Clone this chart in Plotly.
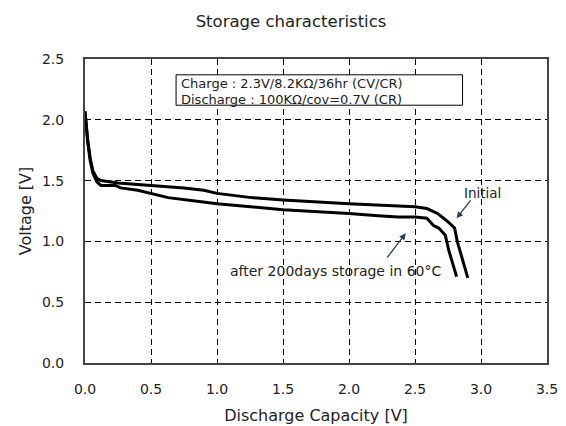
import plotly.graph_objects as go

# discharge curves
initial_x = [0, 0.01, 0.02, 0.04, 0.06, 0.09, 0.12, 0.25, 0.5, 0.75, 0.90, 1.0,
             1.26, 1.5, 2.0, 2.37, 2.5, 2.59, 2.67, 2.74, 2.80, 2.82, 2.86, 2.90]
initial_y = [2.07, 1.92, 1.84, 1.68, 1.58, 1.52, 1.50, 1.48, 1.46, 1.44, 1.42, 1.395,
             1.36, 1.34, 1.31, 1.29, 1.285, 1.27, 1.23, 1.17, 1.11, 1.00, 0.85, 0.70]

stored_x = [0, 0.01, 0.02, 0.04, 0.06, 0.09, 0.12, 0.23, 0.27, 0.40, 0.51, 0.63,
            0.85, 1.0, 1.5, 2.0, 2.22, 2.37, 2.5, 2.59, 2.64, 2.68, 2.73, 2.755, 2.815]
stored_y = [2.07, 1.90, 1.82, 1.66, 1.56, 1.49, 1.46, 1.46, 1.44, 1.42, 1.39, 1.36,
            1.33, 1.31, 1.26, 1.23, 1.21, 1.20, 1.20, 1.19, 1.13, 1.11, 1.05, 0.93, 0.71]

x_ticks = [0.0, 0.5, 1.0, 1.5, 2.0, 2.5, 3.0, 3.5]
y_ticks = [0.0, 0.5, 1.0, 1.5, 2.0, 2.5]

font = "DejaVu Sans, sans-serif"

fig = go.Figure()
fig.add_trace(go.Scatter(x=initial_x, y=initial_y, mode="lines",
                         line=dict(color="black", width=3), name="Initial"))
fig.add_trace(go.Scatter(x=stored_x, y=stored_y, mode="lines",
                         line=dict(color="black", width=3), name="after 200days"))

# condition box
fig.add_shape(type="rect", x0=0.69, x1=2.86, y0=2.12, y1=2.37,
              line=dict(color="black", width=1), fillcolor="white", layer="above")
fig.add_annotation(x=0.715, y=2.30, text="Charge : 2.3V/8.2KΩ/36hr (CV/CR)",
                   showarrow=False, xanchor="left", font=dict(size=13))
fig.add_annotation(x=0.715, y=2.17, text="Discharge : 100KΩ/cov=0.7V (CR)",
                   showarrow=False, xanchor="left", font=dict(size=13))

# curve labels with arrows
fig.add_annotation(x=2.815, y=1.19, ax=2.93, ay=1.35, axref="x", ayref="y",
                   text="", showarrow=True, arrowhead=2, arrowsize=1, arrowwidth=1.3)
fig.add_annotation(x=3.01, y=1.40, text="Initial", showarrow=False,
                   font=dict(size=13.5))
fig.add_annotation(x=2.43, y=1.066, ax=2.28, ay=0.854, axref="x", ayref="y",
                   text="", showarrow=True, arrowhead=2, arrowsize=1, arrowwidth=1.3)
fig.add_annotation(x=1.90, y=0.76, text="after 200days storage in 60°C",
                   showarrow=False, font=dict(size=14))

fig.update_layout(
    width=566, height=426,
    margin=dict(l=77, r=27, t=51, b=64),
    paper_bgcolor="white", plot_bgcolor="white",
    showlegend=False,
    font=dict(family=font, color="#222", size=14),
    title=dict(text="Storage characteristics", x=0.5, xanchor="center",
               y=0.969, yanchor="middle", font=dict(size=16.5)),
)
fig.update_xaxes(range=[0, 3.5], tickvals=x_ticks, ticktext=[f"{v:.1f}" for v in x_ticks],
                 showline=True, mirror=True, linecolor="#444", linewidth=2,
                 showgrid=True, gridcolor="black", gridwidth=1, griddash="6px,4px",
                 zeroline=False, ticks="", ticklabelstandoff=12,
                 title=dict(text="Discharge Capacity [V]", font=dict(size=16), standoff=14))
fig.update_yaxes(range=[0, 2.5], tickvals=y_ticks, ticktext=[f"{v:.1f}" for v in y_ticks],
                 showline=True, mirror=True, linecolor="#444", linewidth=2,
                 showgrid=True, gridcolor="black", gridwidth=1, griddash="6px,4px",
                 zeroline=False, ticks="", ticklabelstandoff=16,
                 title=dict(text="Voltage [V]", font=dict(size=16), standoff=6))

fig.write_html("out.html")
